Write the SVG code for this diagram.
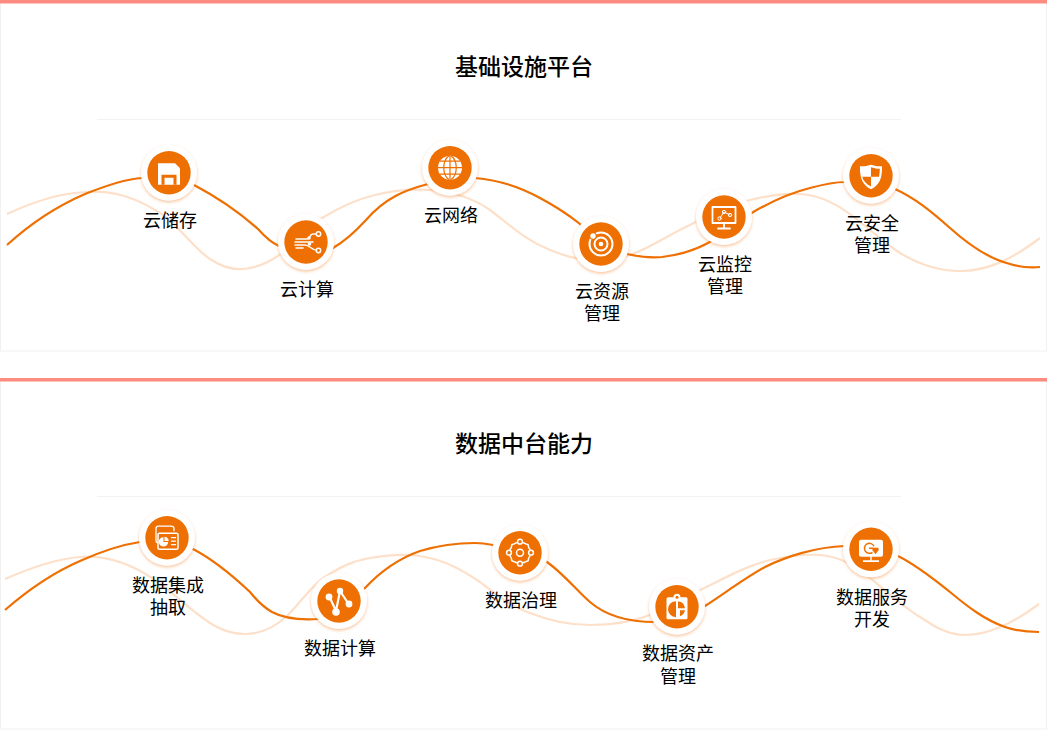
<svg xmlns="http://www.w3.org/2000/svg" width="1047" height="730" viewBox="0 0 1047 730">
<style>
text{font-family:"Noto Sans CJK SC","Noto Sans",sans-serif;fill:#000;text-anchor:middle}
.lb{font-size:18px}
.ti{font-size:23px;font-weight:500}
.card{fill:#fff;stroke:#f1f1f1;stroke-width:1}
.bar{fill:#fd8b7f}
.dv{stroke:#f2f2f2;stroke-width:1}
.dk{fill:none;stroke:#ee6f02;stroke-width:2.200}
.lt{fill:none;stroke:#fde0ca;stroke-width:2.200}
.ring{fill:#fff;filter:url(#sh)}
.dot{fill:#ee6f02}
.ic{fill:none;stroke:#fff;stroke-width:1.500;stroke-linecap:round;stroke-linejoin:round}
.wf{fill:#fff}
.of{fill:#ee6f02}
</style>
<defs>
<filter id="sh" x="-30%" y="-30%" width="160%" height="170%"><feDropShadow dx="0" dy="1.500" stdDeviation="1.500" flood-color="#ee6f02" flood-opacity=".42"/></filter>
</defs>
<rect width="1047" height="730" fill="#fff"/>
<g id="panel-1">
<rect class="card" x="0.500" y="1" width="1046" height="350"/>
<rect class="bar" x="0" y="0" width="1047" height="3.500"/>
<line class="dv" x1="97" y1="119.500" x2="901" y2="119.500"/>
<text class="ti" x="524" y="74.500">基础设施平台</text>
</g>
<g id="panel-2">
<rect class="card" x="0.500" y="379" width="1046" height="350"/>
<rect class="bar" x="0" y="378" width="1047" height="3.500"/>
<line class="dv" x1="97" y1="496.500" x2="901" y2="496.500"/>
<text class="ti" x="524" y="451.500">数据中台能力</text>
</g>
<g id="connectors">
<path class="lt" d="M7,214C35,201 62,193 85,192C112,190 135,197 160,213C180,226 193,248 210,259C222,267 232,270 243,269C258,268 270,262 282,253C295,240 305,228 322,218C340,207 358,199 375,195C395,190 415,189 430,190C452,192 472,197 490,210C510,225 525,240 550,250C560,254 568,257 580,259C600,262 618,260 635,253C655,245 670,234 690,225C710,214 730,204 750,200C770,195 785,193 800,194C820,195 840,205 860,222C878,236 885,243 900,253C920,265 940,271 960,271C990,271 1015,257 1040,238"/>
<path class="dk" d="M7,245C30,224 55,207 85,194C105,186 125,179 142,178C155,176 175,175 194,185C215,196 240,213 258,229C266,238 272,243 279,246C295,254 315,258 333,248C345,241 355,232 366,220C385,198 405,190 428,184C445,177 460,176 475,178C500,180 520,187 540,198C555,206 570,216 580,224C590,238 605,248 627,254C640,257 650,258 662,257C680,255 695,250 708,243C722,235 735,224 750,214C770,202 790,193 810,188C825,184 835,182 845,182C865,180 880,183 895,189C915,198 932,212 950,228C970,246 990,259 1010,264C1020,267 1030,268 1040,267"/>
<path class="lt" d="M5,579C30,568 55,559 80,557C105,555 130,563 155,580C175,594 195,615 215,626C226,632 235,634 245,634C262,634 275,627 287,616C300,603 310,588 322,579C340,567 352,561 370,558C388,555 405,554 420,556C445,560 462,570 480,582C497,595 512,607 530,613C550,621 570,625 590,625C610,625 632,622 650,615C668,608 682,598 700,590C725,578 748,565 770,560C788,556 805,554 820,555C842,557 858,567 875,582C890,595 905,608 920,617C935,627 948,635 965,635C990,635 1015,622 1039,604"/>
<path class="dk" d="M5,610C28,590 50,574 80,561C100,552 120,545 140,542C160,540 175,542 193,549C212,559 232,575 250,592C258,602 265,608 272,612C285,619 302,620 318,619C340,617 355,598 365,588C380,572 400,558 420,551C440,545 458,543 475,543C483,543 488,544 493,545C510,548 530,554 547,562C565,575 578,592 590,602C605,615 625,622 655,622C675,622 690,615 705,606C725,593 745,578 765,567C785,557 815,547 845,546C865,545 882,549 898,556C918,566 935,580 950,592C968,607 985,620 1005,627C1017,631 1028,632 1039,632"/>
</g>
<g id="n-storage" transform="translate(169,172.700)">
<circle class="ring" r="28"/><circle class="dot" r="21.700"/>
<path class="wf" d="M-11,-9.500H6L11,-4.500V12H-11Z"/>
<path class="of" d="M-7.500,2H7.500V12H4.500V5H-4.500V12H-7.500Z"/>
<text class="lb" x="1" y="54">云储存</text>
</g>
<g id="n-compute" transform="translate(306,242)">
<circle class="ring" r="28"/><circle class="dot" r="21.700"/>
<path class="ic" d="M-10,-3H1C5,-3 3,-8 7,-8H10M-11,0H7M-11,3H-1C3,3 6,8 10,8M-10,6H-3"/>
<circle cx="12.500" cy="-8" r="2.200" class="ic"/><circle cx="3" cy="-4" r="1.800" class="wf"/><circle cx="3.500" cy="2" r="1.800" class="wf"/><circle cx="12.500" cy="8.500" r="2.200" class="ic"/>
<text class="lb" x="1" y="53.800">云计算</text>
</g>
<g id="n-network" transform="translate(450,167.700)">
<circle class="ring" r="28"/><circle class="dot" r="21.700"/>
<circle class="wf" r="12"/>
<path d="M0,-12V12M-12,0H12M-10,-6.500H10M-10,6.500H10M-1,-12C-8,-7 -8,7 -1,12M1,-12C8,-7 8,7 1,12" fill="none" stroke="#ee6f02" stroke-width="1.200"/>
<text class="lb" x="1" y="54.500">云网络</text>
</g>
<g id="n-resource" transform="translate(601,244)">
<circle class="ring" r="28"/><circle class="dot" r="21.700"/>
<circle r="11.500" class="ic" style="stroke-width:2"/><circle r="6.500" class="ic" style="stroke-width:2"/><circle r="2.300" class="wf"/>
<circle cx="-8" cy="-8" r="3.800" class="of"/><circle cx="-8" cy="-8" r="2.700" class="wf"/>
<text class="lb" x="1" y="54">云资源</text><text class="lb" x="1" y="76">管理</text>
</g>
<g id="n-monitor" transform="translate(724,217)">
<circle class="ring" r="28"/><circle class="dot" r="21.700"/>
<rect x="-11.500" y="-10" width="23" height="16" class="ic" style="stroke-width:1.800"/>
<path class="ic" d="M0,6V11M-6,11.500H6" style="stroke-width:1.800"/>
<path class="ic" d="M-4,1L0,-5L6,-2" style="stroke-width:1"/>
<circle cx="-4.500" cy="1.500" r="1.700" class="ic" style="stroke-width:1"/><circle cx="0" cy="-5" r="1.700" class="ic" style="stroke-width:1"/><circle cx="6" cy="-2" r="1.700" class="ic" style="stroke-width:1"/>
<text class="lb" x="1" y="54">云监控</text><text class="lb" x="1" y="76">管理</text>
</g>
<g id="n-security" transform="translate(871,175.700)">
<circle class="ring" r="28"/><circle class="dot" r="21.700"/>
<path class="wf" d="M-11,-9.500C-6,-9 -3,-10 0,-11C3,-10 6,-9 11,-9.500C11.500,3 8,9.500 0,13.500C-8,9.500 -11.500,3 -11,-9.500Z"/>
<path class="of" d="M0,1V10.800C-5,8 -8,5 -8.800,1ZM0,1V-8.500C3,-7.500 6,-6.800 8.800,-7C8.800,-4 8.500,-2 8,1Z"/>
<text class="lb" x="1" y="54.300">云安全</text><text class="lb" x="1" y="76.300">管理</text>
</g>
<g id="n-integration" transform="translate(167,537.700)">
<circle class="ring" r="28"/><circle class="dot" r="21.700"/>
<path class="ic" d="M7,-7V-9C7,-11 6,-11.500 4,-11.500H-8.500C-10.500,-11.500 -11,-10.500 -11,-9V3C-11,4.500 -10.500,5 -9.500,5" style="stroke-width:1.300"/>
<rect x="-9" y="-4.500" width="20" height="16" rx="1.500" class="ic"/>
<path class="wf" d="M-3.500,-0.500A4.700,4.700 0 1 0 1.200,4.200H-3.500Z"/><path class="wf" d="M-2.500,-1A4.200,4.200 0 0 1 1.700,3.200H-2.500Z"/>
<path class="ic" d="M4.500,0H8.500M4.500,3.500H8.500M4.500,7H8.500" style="stroke-width:1.300"/>
<text class="lb" x="1" y="54">数据集成</text><text class="lb" x="1" y="76">抽取</text>
</g>
<g id="n-datacompute" transform="translate(339,601)">
<circle class="ring" r="28"/><circle class="dot" r="21.700"/>
<path d="M-9,-3L-3,10L1,-10L9,2" fill="none" stroke="#fff" stroke-width="2.200"/>
<circle cx="-10" cy="-4" r="3.400" class="wf"/><circle cx="-3" cy="11" r="3.800" class="wf"/><circle cx="1" cy="-10" r="3.200" class="wf"/><circle cx="10" cy="3" r="3.400" class="wf"/>
<text class="lb" x="1" y="53.800">数据计算</text>
</g>
<g id="n-governance" transform="translate(520,552.700)">
<circle class="ring" r="28"/><circle class="dot" r="21.700"/>
<path class="ic" d="M-3,-10C-5,-10 -5.500,-8.500 -7,-8.500C-8.500,-8.500 -8.500,-7 -8.500,-6C-8.500,-4.500 -10,-4 -10,-3M3,-10C5,-10 5.500,-8.500 7,-8.500C8.500,-8.500 8.500,-7 8.500,-6C8.500,-4.500 10,-4 10,-3M-3,10C-5,10 -5.500,8.500 -7,8.500C-8.500,8.500 -8.500,7 -8.500,6C-8.500,4.500 -10,4 -10,3M3,10C5,10 5.500,8.500 7,8.500C8.500,8.500 8.500,7 8.500,6C8.500,4.500 10,4 10,3"/>
<circle r="3.500" class="ic"/>
<circle cx="0" cy="-11" r="2.400" class="ic"/><circle cx="0" cy="11" r="2.400" class="ic"/><circle cx="-11" cy="0" r="2.400" class="ic"/><circle cx="11" cy="0" r="2.400" class="ic"/>
<text class="lb" x="1" y="54">数据治理</text>
</g>
<g id="n-asset" transform="translate(677,606.700)">
<circle class="ring" r="28"/><circle class="dot" r="21.700"/>
<rect x="-10.500" y="-9.500" width="21" height="22" rx="1.500" class="wf"/>
<circle cx="0" cy="-9.500" r="3.500" class="wf"/><circle cx="0" cy="-9.500" r="1.500" class="of"/>
<path class="of" d="M-1,-5.500A8,8 0 0 0 -1,10.500Z"/><path class="of" d="M1,-5.500A8,8 0 0 1 8,1.500H1Z"/><path class="of" d="M3,3.500H8A8,8 0 0 1 3,9.500Z"/>
<text class="lb" x="1" y="53.500">数据资产</text><text class="lb" x="1" y="76">管理</text>
</g>
<g id="n-service" transform="translate(871,549.300)">
<circle class="ring" r="28"/><circle class="dot" r="21.700"/>
<rect x="-12" y="-9.500" width="24" height="17" rx="2" class="wf"/>
<path class="wf" d="M-0.700,7H0.700V11H-0.700ZM-8,11H8V12.700H-8Z"/>
<path fill="none" stroke="#ee6f02" stroke-width="1.500" d="M3,-3A5,5 0 1 0 1.500,3M-2,-1H2"/>
<path class="of" d="M1.500,-1.500H7.500V1L4.500,5L1.500,1Z"/>
<text class="lb" x="1" y="54.300">数据服务</text><text class="lb" x="1" y="76.300">开发</text>
</g>
</svg>
